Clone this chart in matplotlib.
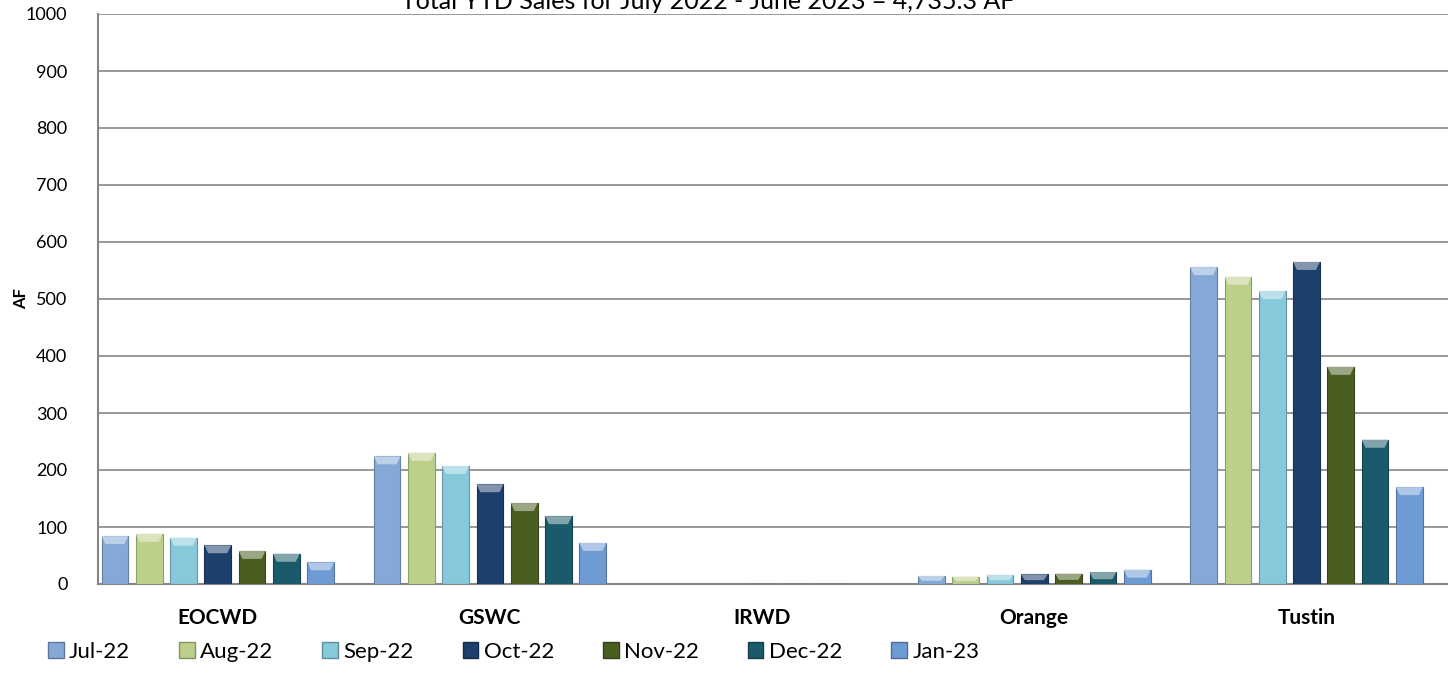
import matplotlib
matplotlib.use("Agg")
import matplotlib.pyplot as plt
from matplotlib.patches import Polygon, Patch
import matplotlib.colors as mcolors
import numpy as np

categories = ["EOCWD", "GSWC", "IRWD", "Orange", "Tustin"]
months = ["Jul-22", "Aug-22", "Sep-22", "Oct-22", "Nov-22", "Dec-22", "Jan-23"]
values = {
    "Jul-22": [84, 224, 0, 14, 556],
    "Aug-22": [88, 230, 0, 13, 539],
    "Sep-22": [81, 207, 0, 16, 514],
    "Oct-22": [68, 175, 0, 17, 565],
    "Nov-22": [58, 142, 0, 18, 381],
    "Dec-22": [53, 119, 0, 21, 253],
    "Jan-23": [38, 72, 0, 25, 170],
}
colors = ["#85a9d6", "#bcd08c", "#86c9db", "#1d3f6c", "#4a5e22", "#1a5a6a", "#6f9bd4"]
title = "Total YTD Sales for July 2022 - June 2023 = 4,735.3 AF"
yticks = list(range(0, 1001, 100))

plt.rcParams['font.family'] = ['Lato', 'DejaVu Sans']

fig = plt.figure(figsize=(14.48, 6.92), dpi=100)
ax = fig.add_axes([98/1448, 1-584/692, 1-98/1448, 570/692])

x = np.arange(len(categories))
pitch = 0.126
width = 0.098

def lighten(c, f):
    r, g, b = mcolors.to_rgb(c)
    return (r + (1-r)*f, g + (1-g)*f, b + (1-b)*f)

def darken(c, f):
    r, g, b = mcolors.to_rgb(c)
    return (r*(1-f), g*(1-f), b*(1-f))

for i, m in enumerate(months):
    off = (i - 3) * pitch
    bars = ax.bar(x + off, values[m], width=width, color=colors[i],
                  edgecolor=darken(colors[i], 0.25), linewidth=0.8, zorder=3)
    for b in bars:
        h = b.get_height()
        if h <= 0:
            continue
        x0 = b.get_x(); x1 = x0 + b.get_width()
        d = 0.014
        hh = min(14, h * 0.6)
        poly = Polygon([(x0, h), (x1, h), (x1 - d, h - hh), (x0 + d, h - hh)],
                       closed=True, facecolor=lighten(colors[i], 0.45),
                       edgecolor='none', zorder=4)
        ax.add_patch(poly)

ax.set_xlim(-0.44, 4.52)
ax.set_ylim(0, 1000)
ax.set_yticks(yticks)
ax.set_yticklabels([str(t) for t in yticks], fontsize=13)
ax.set_xticks(x)
ax.set_xticklabels(categories, fontsize=15, fontweight='bold')
ax.tick_params(axis='x', length=0, pad=17)
ax.tick_params(axis='y', length=0, pad=22)
ax.yaxis.grid(True, color='#868686', linewidth=1.2, zorder=0)
ax.set_axisbelow(True)
for s in ['top', 'right']:
    ax.spines[s].set_visible(False)
for s in ['left', 'bottom']:
    ax.spines[s].set_color('#868686')
    ax.spines[s].set_linewidth(1.5)
ax.set_ylabel("AF", fontsize=12, fontweight='bold')
ax.yaxis.set_label_coords((29 - 98) / 1350, 0.5)

fig.text(708/1448, 1-9/692, title, ha='center', va='baseline', fontsize=18)

handles = [Patch(facecolor=colors[i], edgecolor=darken(colors[i], 0.3), label=m)
           for i, m in enumerate(months)]
fig.legend(handles=handles, loc='center left', bbox_to_anchor=(28/1448, 1-652/692),
           ncol=7, frameon=False, fontsize=16, handlelength=0.7, handleheight=0.7,
           handletextpad=0.25, columnspacing=2.2)

fig.savefig("out.png", dpi=100)
